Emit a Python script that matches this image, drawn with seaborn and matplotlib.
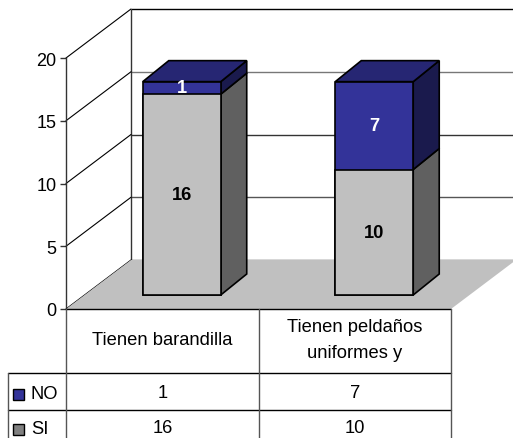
import matplotlib
matplotlib.use('Agg')
import matplotlib.pyplot as plt
import pandas as pd
import seaborn as sns
from matplotlib.patches import Polygon, Rectangle
from matplotlib.transforms import Affine2D, IdentityTransform

categories = ['Tienen barandilla', 'Tienen peldaños\nuniformes y']
si_values = [16, 10]
no_values = [1, 7]
y_ticks = [0, 5, 10, 15, 20]

W, H = 513, 439
BLUE, BLUE_TOP, BLUE_SIDE = '#333399', '#262673', '#1a1a4d'
GREY, GREY_SIDE, GREY_KEY = '#c0c0c0', '#606060', '#808080'

sns.set_theme(style='white')
plt.rcParams['font.family'] = ['Liberation Sans', 'DejaVu Sans']
plt.rcParams['font.size'] = 13.2

df = pd.DataFrame({'cat': categories, 'si': si_values, 'no': no_values})
df['total'] = df['si'] + df['no']

fig = plt.figure(figsize=(W / 100, H / 100), dpi=100)
ax = fig.add_axes([66 / W, (H - 310) / H, 385 / W, 251 / H])
ax.patch.set_alpha(0)


def shifted(dx, dy):
    return ax.transData + Affine2D().translate(dx, dy)


# bars, total behind and SI over it
sns.barplot(data=df, x='cat', y='total', color=BLUE, saturation=1, width=0.405,
            edgecolor='black', linewidth=1.2, zorder=5, ax=ax)
sns.barplot(data=df, x='cat', y='si', color=GREY, saturation=1, width=0.405,
            edgecolor='black', linewidth=1.2, zorder=6, ax=ax)
ax.set_xlim(-0.5, 1.5)
ax.set_ylim(0, 20)

wall_shift = (65, 49)
bar_shift = (19.5, 14)
depth = (26, 21)
bar_tf = shifted(*bar_shift)

bars = list(ax.patches)
for bar in bars:
    bar.set_transform(bar_tf)
    bar.set_clip_on(False)


def corner(x, y, dx=0, dy=0):
    return bar_tf.transform((x, y)) + (dx, dy)


# side and top faces
for i in range(len(categories)):
    x0 = bars[i].get_x()
    x1 = x0 + bars[i].get_width()
    si, total = si_values[i], si_values[i] + no_values[i]
    faces = [
        ([(x1, 0), (x1, si)], GREY_SIDE),
        ([(x1, si), (x1, total)], BLUE_SIDE),
    ]
    for (a, b), col in faces:
        pts = [corner(*a), corner(*b), corner(*b, *depth), corner(*a, *depth)]
        ax.add_patch(Polygon(pts, closed=True, facecolor=col, edgecolor='black', lw=1.2,
                             transform=IdentityTransform(), clip_on=False, zorder=4))
    pts = [corner(x0, total), corner(x1, total), corner(x1, total, *depth), corner(x0, total, *depth)]
    ax.add_patch(Polygon(pts, closed=True, facecolor=BLUE_TOP, edgecolor='black', lw=1.2,
                         transform=IdentityTransform(), clip_on=False, zorder=4))
    ax.text(i, si / 2, str(si), transform=bar_tf, ha='center', va='center',
            fontweight='bold', color='black', zorder=7)
    ax.text(i, si + no_values[i] / 2, str(no_values[i]), transform=bar_tf, ha='center',
            va='center', fontweight='bold', color='white', zorder=7)

# back wall and floor
wall_tf = shifted(*wall_shift)
ax.hlines(y_ticks, -0.5, 1.5, colors=['#333333', '#555555', '#333333', '#777777', 'black'],
          lw=1, transform=wall_tf, clip_on=False, zorder=1)
ax.vlines(-0.5, 0, 20, colors='#333333', lw=1, transform=wall_tf, clip_on=False, zorder=1)
for t in y_ticks:
    a = ax.transData.transform((-0.5, t))
    ax.plot([a[0], a[0] + wall_shift[0]], [a[1], a[1] + wall_shift[1]], color='black', lw=0.8,
            transform=IdentityTransform(), clip_on=False, zorder=1)
a = ax.transData.transform((-0.5, 0))
b = ax.transData.transform((1.5, 0))
ax.add_patch(Polygon([a, b, b + wall_shift, a + wall_shift], closed=True, facecolor=GREY,
                     edgecolor='none', transform=IdentityTransform(), clip_on=False, zorder=2))

# axes
ax.set_xlabel('')
ax.set_ylabel('')
ax.set_xticks([])
ax.set_yticks(y_ticks)
ax.tick_params(axis='y', left=True, length=4, width=1, color='#333333', pad=3, labelsize=13,
               labelcolor='black')
sns.despine(ax=ax, top=True, right=True, bottom=True)
ax.spines['left'].set_color('#333333')
ax.spines['left'].set_linewidth(1)
ax.spines['left'].set_zorder(3)


# data table under the plot
def tline(x0, y0, x1, y1, color='black'):
    fig.add_artist(plt.Line2D([x0 / W, x1 / W], [1 - y0 / H, 1 - y1 / H], color=color, lw=1))


tline(66, 310, 451, 310)
tline(8, 374, 451, 374)
tline(8, 411, 451, 411)
for x, y0 in [(8, 374), (66, 310), (259, 310), (451, 310)]:
    tline(x, y0, x, H, color='#555555')


def ttext(x, y, s, **kw):
    fig.text(x / W, 1 - y / H, s, ha=kw.pop('ha', 'center'), va='center', color='black', **kw)


col_x = [162.5, 355]
for x, name in zip(col_x, categories):
    ttext(x, 340.5, name, linespacing=1.7)
for x, n, s in zip(col_x, no_values, si_values):
    ttext(x, 394, str(n))
    ttext(x, 428.5, str(s))

for y, col, name, ty in [(390, BLUE, 'NO', 395), (425, GREY_KEY, 'SI', 430)]:
    fig.add_artist(Rectangle((13 / W, 1 - (y + 11) / H), 11 / W, 11 / H, facecolor=col,
                             edgecolor='black', lw=1, transform=fig.transFigure))
    ttext(31, ty, name, ha='left')

fig.savefig('out.png', dpi=100)
